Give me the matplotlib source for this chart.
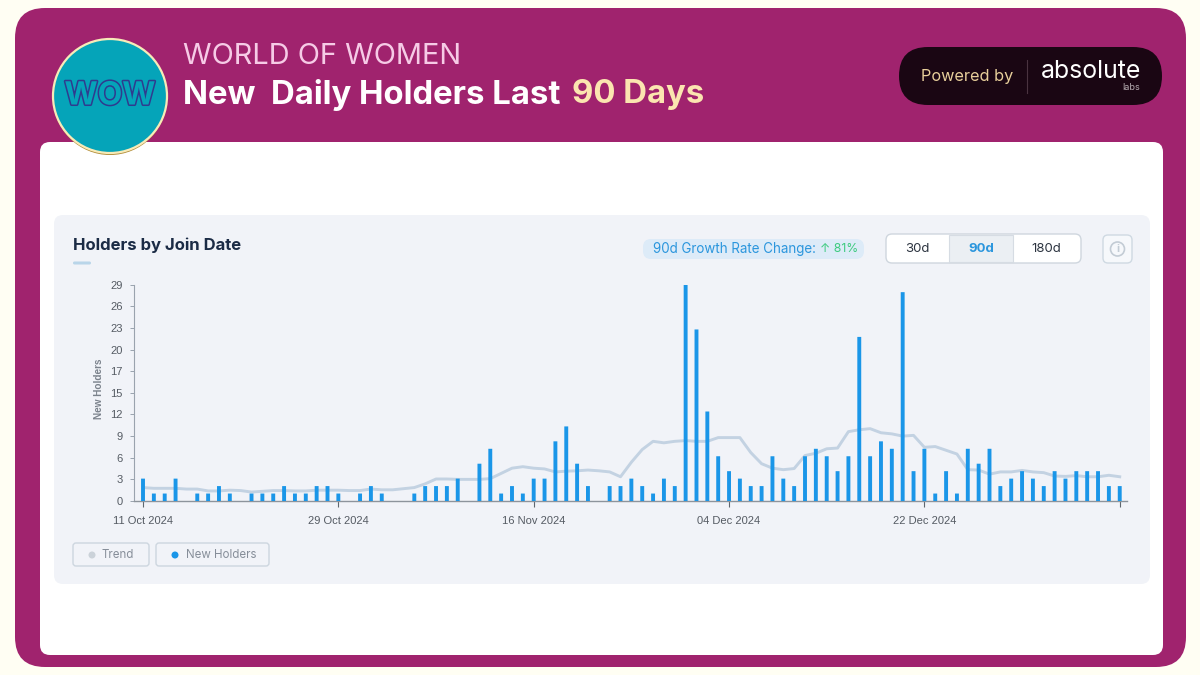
import matplotlib
matplotlib.use('Agg')
import matplotlib.pyplot as plt
import matplotlib.dates as mdates
import matplotlib.patheffects as pe
import pandas as pd
from matplotlib.patches import FancyBboxPatch, Circle, Rectangle

# one value per day, 11 Oct 2024 onwards
dates = pd.date_range('2024-10-11', periods=91, freq='D')
new_holders = [3, 1, 1, 3, 0, 1, 1, 2, 1, 0,
               1, 1, 1, 2, 1, 1, 2, 2, 1, 0,
               1, 2, 1, 0, 0, 1, 2, 2, 2, 3,
               0, 5, 7, 1, 2, 1, 3, 3, 8, 10,
               5, 2, 0, 2, 2, 3, 2, 1, 3, 2,
               29, 23, 12, 6, 4, 3, 2, 2, 6, 3,
               2, 6, 7, 6, 4, 6, 22, 6, 8, 7,
               28, 4, 7, 1, 4, 1, 7, 5, 7, 2,
               3, 4, 3, 2, 4, 3, 4, 4, 4, 2, 2]
trend = [1.8, 1.7, 1.7, 1.7, 1.6, 1.6, 1.35, 1.35, 1.45, 1.4,
         1.2, 1.3, 1.4, 1.4, 1.35, 1.35, 1.45, 1.45, 1.45, 1.4,
         1.4, 1.6, 1.5, 1.5, 1.65, 1.8, 2.3, 2.95, 2.95, 2.9,
         2.9, 2.9, 3.0, 3.7, 4.4, 4.6, 4.4, 4.3, 3.9, 4.0,
         4.05, 4.15, 4.05, 3.9, 3.25, 5.2, 6.9, 8.0, 7.8, 8.0,
         8.1, 8.0, 8.0, 8.5, 8.5, 8.5, 6.5, 5.0, 4.4, 4.2,
         4.35, 6.1, 6.4, 7.0, 7.1, 9.3, 9.55, 9.7, 9.15, 9.0,
         8.7, 8.8, 7.2, 7.3, 6.8, 6.3, 4.2, 4.15, 3.6, 3.9,
         3.9, 4.1, 3.9, 3.8, 3.35, 3.3, 3.4, 3.25, 3.25, 3.45, 3.25]

y_ticks = [0, 2.9, 5.8, 8.7, 11.6, 14.5, 17.4, 20.3, 23.2, 26.1, 29]
y_labels = ['0', '3', '6', '9', '12', '15', '17', '20', '23', '26', '29']
x_labels = ['11 Oct 2024', '29 Oct 2024', '16 Nov 2024', '04 Dec 2024', '22 Dec 2024', '']

UI_FONT = ['Inter', 'DejaVu Sans']
CHART_FONT = ['Liberation Sans', 'DejaVu Sans']
BLUE = '#1A96E8'
TREND = '#C3D2E2'


# rounded box in pixel coordinates of the background axes
def box(ax, x0, y0, x1, y1, r, fc, ec='none', lw=0, z=1):
    p = FancyBboxPatch((x0, y0), x1 - x0, y1 - y0,
                       boxstyle='round,pad=0,rounding_size=%s' % r,
                       fc=fc, ec=ec, lw=lw, zorder=z)
    ax.add_patch(p)
    return p


def label(ax, x, y, s, size, color, weight='normal', ha='left', family=UI_FONT, z=5):
    return ax.text(x, y, s, fontsize=size, color=color, fontweight=weight, ha=ha,
                   va='center', family=family, zorder=z)


fig = plt.figure(figsize=(12, 6.75), dpi=100, facecolor='#FFFEF3')
bg = fig.add_axes([0, 0, 1, 1])
bg.set_xlim(0, 1200)
bg.set_ylim(675, 0)
bg.axis('off')

# frame, card and chart panel
box(bg, 15, 8, 1186, 667, 30, '#A0236E')
box(bg, 40, 142, 1163, 655, 10, 'white', z=2)
box(bg, 54, 215, 1150, 584, 9, '#F1F3F8', z=3)

# header
bg.add_patch(Circle((110, 98), 57, fc='#B08A35', zorder=4))
bg.add_patch(Circle((110, 96), 57, fc='#05A4B9', ec='#F7EBB8', lw=1.6, zorder=4))
t = label(bg, 110, 96, 'WOW', 23, '#05A4B9', 'bold', ha='center')
t.set_path_effects([pe.withStroke(linewidth=2.2, foreground='#2F3B8F')])

label(bg, 183, 57, 'WORLD OF WOMEN', 20.9, '#F6CBE6')
label(bg, 183, 95, 'New  Daily Holders Last', 23.7, 'white', 'bold')
label(bg, 572, 95, '90 Days', 23.7, '#FBE5B0', 'bold')

# powered by pill
box(bg, 899, 47, 1162, 105, 29, '#1A0613', z=4)
bg.plot([1027, 1027], [60, 93], color='#4A3340', lw=0.8, zorder=5)
label(bg, 921, 77, 'Powered by', 11.7, '#E8CF9B')
label(bg, 1041, 71, 'absolute', 17.9, 'white')
label(bg, 1140, 88, 'labs', 6.5, '#B9B0B5', ha='right')

# panel title
label(bg, 73, 245, 'Holders by Join Date', 12, '#1B2B45', 'bold')
box(bg, 73, 261.5, 91, 264.5, 1.5, '#B9D5E9', z=4)

# growth pill
box(bg, 643, 239, 864, 259, 8, '#DDEBF8', z=4)
label(bg, 653, 249, '90d Growth Rate Change:', 9.65, '#2B96DD')
label(bg, 820, 249, '↑ 81%', 8.8, '#3DCB7F')

# range buttons
box(bg, 886, 234, 1081, 263, 6, 'white', ec='#CFD6DE', lw=1, z=4)
bg.add_patch(Rectangle((949, 235), 64, 27, fc='#EBEFF3', ec='#D6DCE3', lw=0.8, zorder=4))
label(bg, 917.5, 249, '30d', 9.5, '#2C3440', ha='center')
label(bg, 981, 249, '90d', 9.5, '#2B96DD', 'bold', ha='center')
label(bg, 1046.5, 249, '180d', 9.5, '#2C3440', ha='center')

# info button
box(bg, 1103, 235, 1132, 263, 5, '#F6F8FB', ec='#CFD9E2', lw=1, z=4)
bg.add_patch(Circle((1117.5, 249), 7, fc='none', ec='#C3CCD5', lw=1.2, zorder=5))
label(bg, 1117.5, 249, 'i', 8, '#C3CCD5', 'bold', ha='center')

# legend buttons
box(bg, 73, 543, 149, 566, 3, '#F1F3F8', ec='#CDD6DF', lw=1, z=4)
box(bg, 156, 543, 269, 566, 3, '#F1F3F8', ec='#CDD6DF', lw=1, z=4)
bg.add_patch(Circle((92, 555), 3.5, fc='#CBD2D9', zorder=5))
bg.add_patch(Circle((175, 555), 3.5, fc=BLUE, zorder=5))
label(bg, 102, 555, 'Trend', 8.3, '#868E99')
label(bg, 186, 555, 'New Holders', 8.3, '#868E99')

# the chart itself, placed by pixel edges
left, right, top, bottom = 134, 1127, 284.7, 501
ax = fig.add_axes([left / 1200, 1 - bottom / 675, (right - left) / 1200, (bottom - top) / 675])
ax.patch.set_alpha(0)
ax.plot(dates, trend, color=TREND, lw=2.1, zorder=2, solid_joinstyle='round')
# snapping makes the thin bars come out 3 or 4 pixels wide at random
ax.bar(dates, new_holders, width=0.36, color=BLUE, zorder=3, snap=False)

d0 = mdates.date2num(dates[0])
ax.set_xlim(d0 - 0.83, d0 + 90.67)
ax.set_ylim(0, 29)
ax.set_yticks(y_ticks)
ax.set_yticklabels(y_labels, family=CHART_FONT, fontsize=8, color='#555B63')
ax.set_xticks(dates[::18])
ax.set_xticklabels(x_labels, family=CHART_FONT, fontsize=8, color='#555B63')
ax.tick_params(axis='y', length=3, width=0.7, color='#9AA3AE', pad=5)
ax.tick_params(axis='x', length=4, width=0.8, color='#5F666E', pad=6.5)
for side in ['top', 'right']:
    ax.spines[side].set_visible(False)
ax.spines['left'].set_color('#9AA3AE')
ax.spines['left'].set_linewidth(0.8)
ax.spines['bottom'].set_color('#8D949C')
ax.spines['bottom'].set_linewidth(1)

label(bg, 99.5, 389, 'New Holders', 7.2, '#7B828C', 'bold', ha='center', family=CHART_FONT).set_rotation(90)

fig.savefig('out.png', dpi=100, facecolor=fig.get_facecolor())
